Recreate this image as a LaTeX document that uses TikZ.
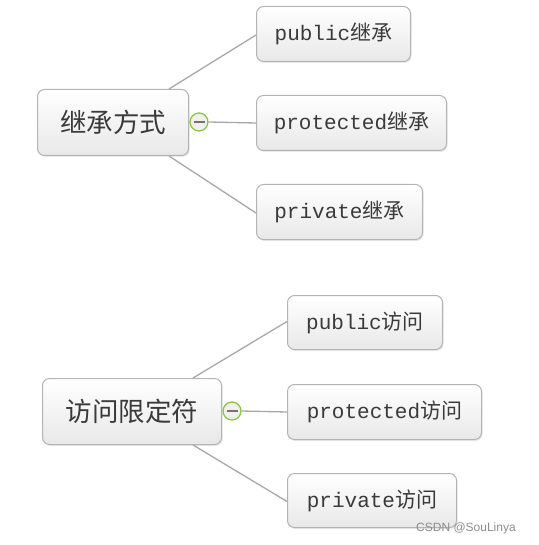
\documentclass[tikz,border=0pt]{standalone}
\usepackage{fontspec}
\setmainfont{Liberation Serif}
\setmonofont{Liberation Mono}
\newfontfamily\cjk{Noto Sans CJK SC}
\newfontfamily\wmfont{Liberation Sans}
\usetikzlibrary{shadows}
\definecolor{boxedge}{HTML}{B4B4B4}
\definecolor{linkcol}{HTML}{A8A8A8}
\definecolor{txtcol}{HTML}{3A3A3A}
\definecolor{foldgreen}{HTML}{8CC63F}
\begin{document}
\begin{tikzpicture}[x=1pt,y=-1pt,
  boxbase/.style={draw=boxedge, line width=1pt, rounded corners=7pt,
    top color=white, bottom color=black!9, text=txtcol, anchor=north west,
    inner sep=0pt, drop shadow={shadow xshift=1.2pt, shadow yshift=-1.5pt, opacity=0.18}},
  rootbox/.style={boxbase, font=\cjk\fontsize{26.5}{30}\selectfont},
  leafbox/.style={boxbase, font=\ttfamily\fontsize{21}{24}\selectfont},
  link/.style={draw=linkcol, line width=1.3pt},
  fold/.style={circle, draw=foldgreen, line width=1.3pt, fill=black!6, minimum size=18pt, inner sep=0pt,
    path picture={\draw[black!55, line width=1.5pt] ([xshift=-5.5pt]path picture bounding box.center) -- ([xshift=5.5pt]path picture bounding box.center);}}
]
\useasboundingbox (0,0) rectangle (538,545);
% top group
\node[rootbox, minimum width=151pt, minimum height=66pt] (r1) at (37,89) {继承方式};
\node[leafbox, minimum width=154pt, minimum height=55pt] (a1) at (256,6) {public{\cjk 继承}};
\node[leafbox, minimum width=190pt, minimum height=55pt] (a2) at (256,95) {protected{\cjk 继承}};
\node[leafbox, minimum width=166pt, minimum height=55pt] (a3) at (256,184) {private{\cjk 继承}};
\node[fold] (c1) at (199,122) {};
\draw[link] ([xshift=-20pt]r1.north east) -- ([yshift=-1pt]a1.west);
\draw[link] (c1.east) -- (a2.west);
\draw[link] ([xshift=-20pt]r1.south east) -- ([yshift=-1pt]a3.west);
% bottom group
\node[rootbox, minimum width=179pt, minimum height=66pt] (r2) at (42,378) {访问限定符};
\node[leafbox, minimum width=155pt, minimum height=54pt] (b1) at (287,295) {public{\cjk 访问}};
\node[leafbox, minimum width=194pt, minimum height=55pt] (b2) at (287,384) {protected{\cjk 访问}};
\node[leafbox, minimum width=169pt, minimum height=54pt] (b3) at (287,473) {private{\cjk 访问}};
\node[fold] (c2) at (232,411) {};
\draw[link] ([xshift=-29pt]r2.north east) -- ([yshift=1pt]b1.west);
\draw[link] (c2.east) -- (b2.west);
\draw[link] ([xshift=-29pt]r2.south east) -- ([yshift=-1pt]b3.west);
% watermark
\node[font=\wmfont\fontsize{12}{14}\selectfont, text=black!45, anchor=west, inner sep=0pt] (wm) at (416,528) {CSDN @SouLinya};
\end{tikzpicture}
\end{document}
